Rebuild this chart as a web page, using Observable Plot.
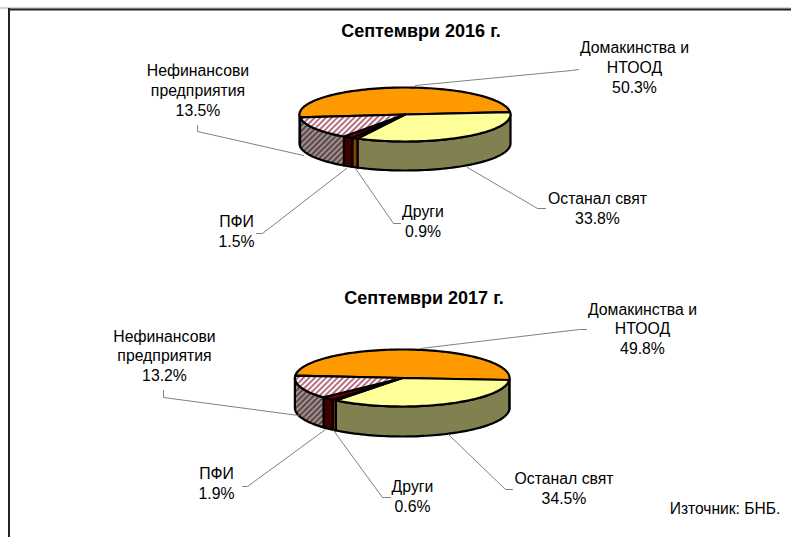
<!DOCTYPE html>
<html>
<head>
<meta charset="utf-8">
<style>html,body{margin:0;padding:0;background:#fff}svg{display:block}</style>
<script src="https://cdn.jsdelivr.net/npm/d3@7"></script>
<script src="https://cdn.jsdelivr.net/npm/@observablehq/plot@0.6"></script>
</head>
<body>
<script>
// Data (clockwise order as in the pie)
const categories = ["Домакинства и\nНТООД", "Останал свят", "Други", "ПФИ", "Нефинансови\nпредприятия"];
const values2016 = [50.3, 33.8, 0.9, 1.5, 13.5];
const values2017 = [49.8, 34.5, 0.6, 1.9, 13.2];
const titles = ["Септември 2016 г.", "Септември 2017 г."];
const source = "Източник: БНБ.";

// Styles
const topFills  = ["#FF9900", "#FFFF99", "#993300", "#800000", "url(#hatchTop)"];
const sideFills = ["#7F4C00", "#808050", "#8A3E00", "#400000", "url(#hatchSide)"];

// Layout of each pie and its annotations
const pies = [
  {values: values2016, title: titles[0], titleX: 420.5, titleY: 36, cx: 404.5, cy: 114, rx: 105.5, ry: 27, depth: 29, start: -96,
   labelX: [634, 597, 422.5, 236, 197.5], labelY: [92, 223.5, 236.5, 246, 115],
   leaders: [
     [[415, 85], [571, 70], [578, 69]],
     [[467, 167], [537, 208], [545, 208]],
     [[355, 168], [393, 223], [400, 223]],
     [[346, 168], [262, 233], [256, 233]],
     [[303, 155], [197, 131], [197, 125]]
   ]},
  {values: values2017, title: titles[1], titleX: 423.5, titleY: 303, cx: 401.7, cy: 377.5, rx: 107.3, ry: 28.5, depth: 30, start: -85.3,
   labelX: [642, 563.5, 412, 216, 164], labelY: [353.5, 503.5, 511, 498.5, 380.5],
   leaders: [
     [[420, 348], [579, 329], [586, 329]],
     [[448, 434], [505, 489], [512, 489]],
     [[333, 430], [382, 497], [390, 497]],
     [[325, 429], [247, 486], [242, 486]],
     [[298, 415], [163, 397], [163, 390]]
   ]}
];

const rad = Math.PI / 180;
const pt = (p, a, dy = 0) => [p.cx + p.rx * Math.sin(a * rad), p.cy - p.ry * Math.cos(a * rad) + dy];
function arc(p, a0, a1, dy = 0) {
  const n = Math.max(2, Math.ceil(Math.abs(a1 - a0) / 2));
  return d3.range(n + 1).map(i => pt(p, a0 + (a1 - a0) * i / n, dy));
}
function slices(p) {
  const total = d3.sum(p.values);
  let a = p.start;
  return p.values.map(v => { const a0 = a; a += v / total * 360; return [a0, a]; });
}
function polygon(points, fill, strokeWidth = 2.2) {
  return Plot.line(points, {x: d => d[0], y: d => d[1], curve: "linear-closed", fill, stroke: "#000", strokeWidth, strokeLinejoin: "round"});
}
function pieMarks(p) {
  const sl = slices(p), marks = [];
  sl.forEach(([a0, a1], i) => {
    for (const lo of [90, 450, -270]) {
      const s = Math.max(a0, lo), e = Math.min(a1, lo + 180);
      if (e > s) marks.push(polygon([...arc(p, s, e), ...arc(p, s, e, p.depth).reverse()], sideFills[i]));
    }
  });
  sl.forEach(([a0, a1], i) => marks.push(polygon([[p.cx, p.cy], ...arc(p, a0, a1)], topFills[i])));
  p.leaders.forEach(l => marks.push(Plot.line(l, {x: d => d[0], y: d => d[1], stroke: "#808080", strokeWidth: 1})));
  marks.push(Plot.text(categories.map((c, i) => ({t: c + "\n" + p.values[i].toFixed(1) + "%", x: p.labelX[i], y: p.labelY[i]})), {
    x: "x", y: "y", text: "t", textAnchor: "middle", lineAnchor: "bottom", lineHeight: 1.24, fontSize: 15.8, fill: "#000"
  }));
  marks.push(Plot.text([p.title], {x: () => p.titleX, y: () => p.titleY, text: d => d, textAnchor: "middle", lineAnchor: "bottom", fontSize: 18, fontWeight: "bold", fill: "#000"}));
  return marks;
}
function patterns() {
  const ns = "http://www.w3.org/2000/svg";
  const defs = document.createElementNS(ns, "defs");
  defs.innerHTML = `
    <pattern id="hatchTop" width="4" height="4" patternUnits="userSpaceOnUse" patternTransform="rotate(45)">
      <rect width="4" height="4" fill="#fff"/><rect width="2" height="4" fill="#B87080"/>
    </pattern>
    <pattern id="hatchSide" width="4" height="4" patternUnits="userSpaceOnUse" patternTransform="rotate(45)">
      <rect width="4" height="4" fill="#A09090"/><rect width="2" height="4" fill="#5C4848"/>
    </pattern>`;
  return defs;
}

const chart = Plot.plot({
  width: 791, height: 537,
  margin: 0,
  x: {domain: [0, 791], range: [0, 791], axis: null},
  y: {domain: [0, 537], range: [0, 537], axis: null},
  style: {fontFamily: "'Liberation Sans', Arial, sans-serif", background: "#fff", overflow: "hidden"},
  marks: [
    patterns,
    Plot.ruleY([7.5], {stroke: "#aaa", strokeWidth: 1}),
    Plot.ruleY([9], {x1: 8, x2: 791, stroke: "#222", strokeWidth: 2}),
    Plot.ruleX([8.5], {y1: 8, y2: 537, stroke: "#222", strokeWidth: 2}),
    ...pies.flatMap(pieMarks),
    Plot.text([source], {x: () => 724.5, y: () => 513, text: d => d, textAnchor: "middle", lineAnchor: "bottom", fontSize: 15.6, fill: "#000"})
  ]
});
document.body.appendChild(chart);
</script>
</body>
</html>
